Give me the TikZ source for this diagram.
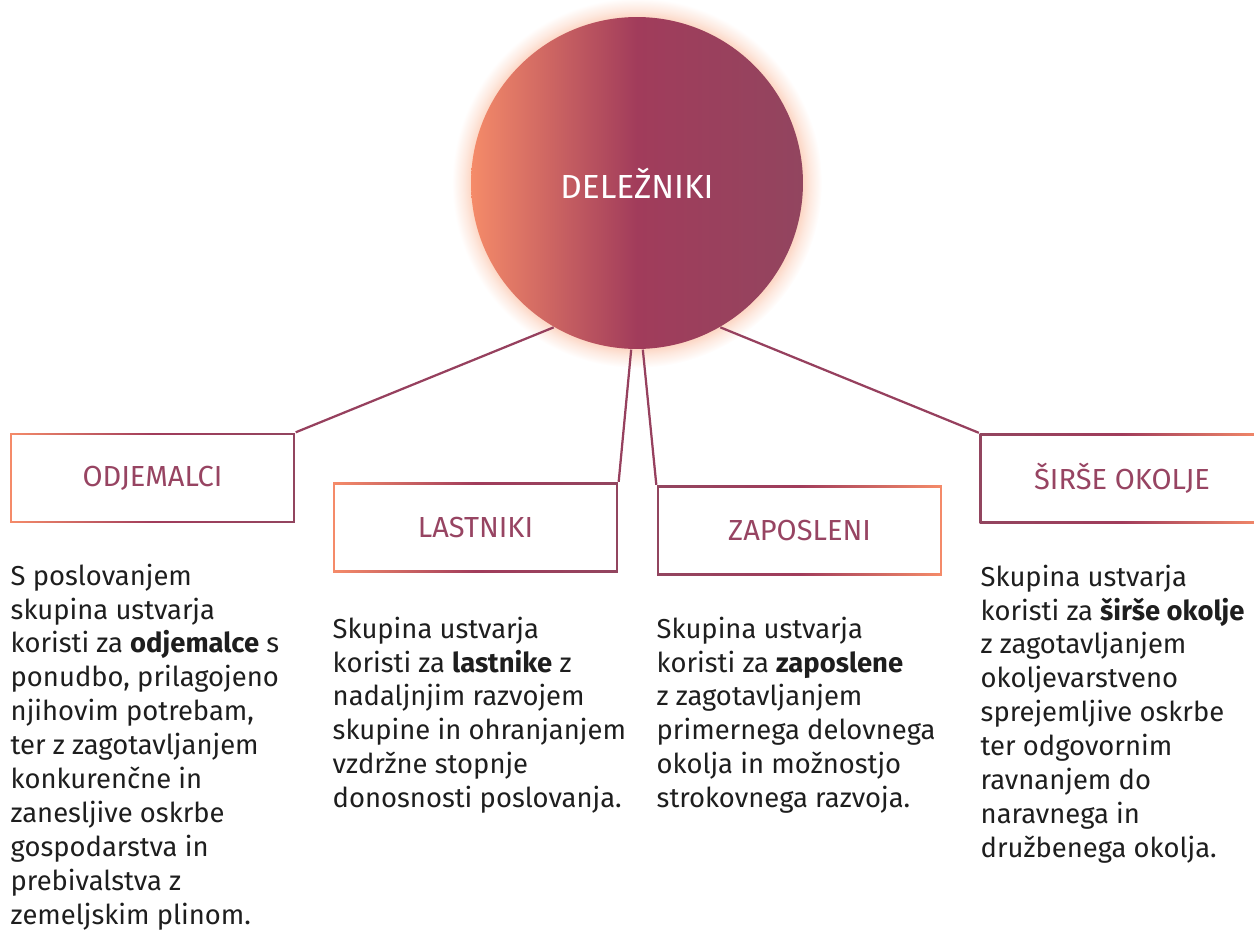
\documentclass[tikz,border=0pt]{standalone}
\usepackage{fontspec}
\setmainfont{Fira Sans}
\definecolor{orangec}{HTML}{F58B69}
\definecolor{winec}{HTML}{A13C5B}
\definecolor{plumc}{HTML}{92455F}
\definecolor{headc}{HTML}{974462}
\definecolor{linec}{HTML}{96405E}
\definecolor{textc}{HTML}{1E1E1E}
\definecolor{glowc}{HTML}{FCD6C4}
\pgfdeclarehorizontalshading{hubshade}{100bp}{color(0bp)=(orangec); color(25bp)=(orangec); color(50bp)=(winec); color(75bp)=(plumc); color(100bp)=(plumc)}
\pgfdeclarehorizontalshading{boxlr}{100bp}{color(0bp)=(orangec); color(25bp)=(orangec); color(50bp)=(winec); color(75bp)=(plumc); color(100bp)=(plumc)}
\pgfdeclarehorizontalshading{boxrl}{100bp}{color(0bp)=(plumc); color(25bp)=(plumc); color(50bp)=(winec); color(75bp)=(orangec); color(100bp)=(orangec)}
\pgfdeclareradialshading{glowshade}{\pgfpoint{0bp}{0bp}}{color(0bp)=(glowc); color(22.4bp)=(glowc); color(23.4bp)=(glowc!55!white); color(25bp)=(white); color(50bp)=(white)}
\begin{document}
\begin{tikzpicture}[x=0.02cm, y=-0.02cm, thick]
  \tikzstyle{hub}=[circle, minimum size=6.64cm, inner sep=0pt, shading=hubshade, text=white, font=\fontsize{19}{21}\selectfont]
  \tikzstyle{stake}=[rectangle, minimum width=5.7cm, minimum height=1.8cm, inner sep=0pt, text=headc, font=\fontsize{16.5}{18}\selectfont,
    path picture={
      \shade[shading=#1] (path picture bounding box.south west) rectangle (path picture bounding box.north east);
      \fill[white] ([shift={(0.045cm,0.045cm)}]path picture bounding box.south west) rectangle ([shift={(-0.045cm,-0.045cm)}]path picture bounding box.north east);
    }]
  \tikzstyle{desc}=[anchor=north west, align=left, inner sep=0pt, text=textc, font=\fontsize{15.6}{19.3}\selectfont]
  \tikzstyle{link}=[draw=linec, line width=0.045cm]
  \path[use as bounding box, clip] (0,0) rectangle (1254,940);

  % Centre with its glow
  \shade[shading=glowshade] (637,183) circle (3.7cm);
  \node[hub] (hub) at (637,183) {DELEŽNIKI};

  % Stakeholder boxes
  \node[stake=boxlr] (odj) at (152.5,478) {ODJEMALCI};
  \node[stake=boxlr] (las) at (475.5,527.5) {LASTNIKI};
  \node[stake=boxrl] (zap) at (799.5,530.5) {ZAPOSLENI};
  \node[stake=boxrl] (sir) at (1122,478.5) {ŠIRŠE OKOLJE};

  \foreach \from/\ang in {odj.north east/240, las.north east/268, zap.north west/272, sir.north west/300}
    \path[link] (\from) -- (hub.\ang);

  % Descriptions
  \node[desc] (odjtxt) at (10,563) {S poslovanjem\\skupina ustvarja\\koristi za \textbf{odjemalce} s\\ponudbo, prilagojeno\\njihovim potrebam,\\ter z zagotavljanjem\\konkurenčne in\\zanesljive oskrbe\\gospodarstva in\\prebivalstva z\\zemeljskim plinom.};
  \node[desc] (lastxt) at (332,616) {Skupina ustvarja\\koristi za \textbf{lastnike} z\\nadaljnjim razvojem\\skupine in ohranjanjem\\vzdržne stopnje\\donosnosti poslovanja.};
  \node[desc] (zaptxt) at (656,616) {Skupina ustvarja\\koristi za \textbf{zaposlene}\\z zagotavljanjem\\primernega delovnega\\okolja in možnostjo\\strokovnega razvoja.};
  \node[desc] (sirtxt) at (980,564) {Skupina ustvarja\\koristi za \textbf{širše okolje}\\z zagotavljanjem\\okoljevarstveno\\sprejemljive oskrbe\\ter odgovornim\\ravnanjem do\\naravnega in\\družbenega okolja.};
\end{tikzpicture}
\end{document}
